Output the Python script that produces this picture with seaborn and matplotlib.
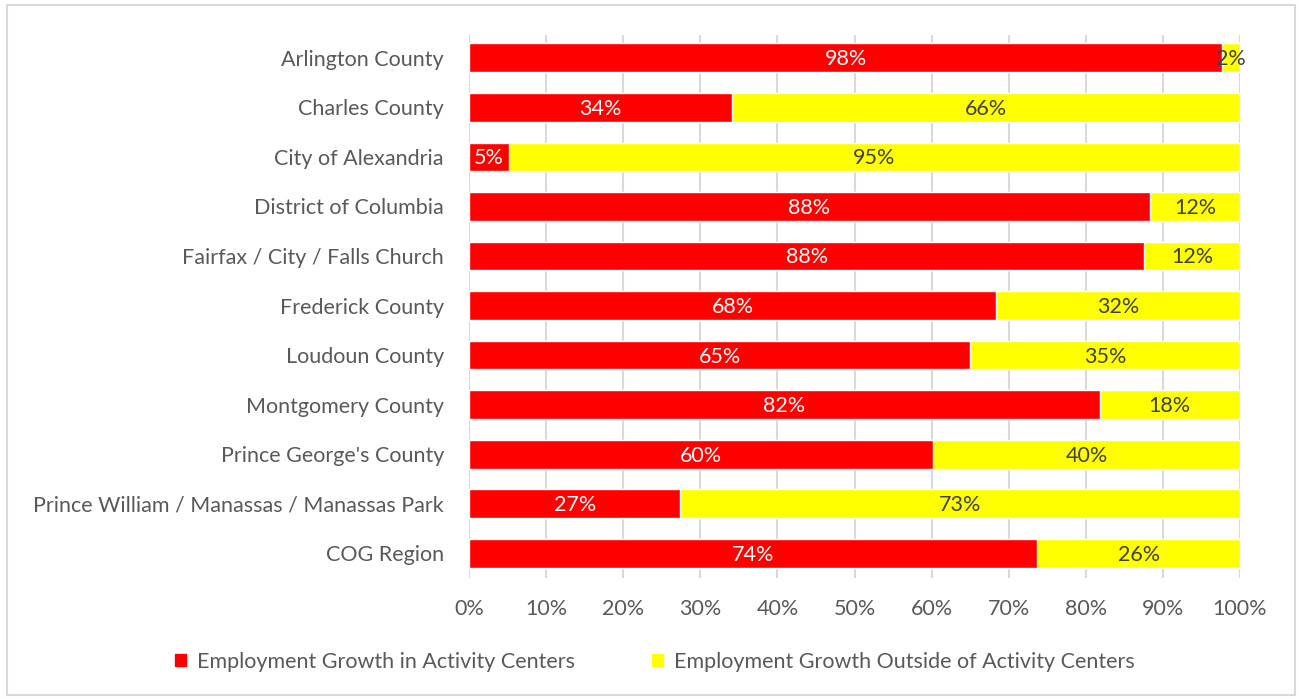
import matplotlib.pyplot as plt
import matplotlib.patches as mpatches
import seaborn as sns
import pandas as pd

counties = ['Arlington County', 'Charles County', 'City of Alexandria',
            'District of Columbia', 'Fairfax / City / Falls Church',
            'Frederick County', 'Loudoun County', 'Montgomery County',
            "Prince George's County", 'Prince William / Manassas / Manassas Park',
            'COG Region']
in_centers = [97.7, 34.1, 5.2, 88.3, 87.6, 68.4, 65.0, 81.8, 60.2, 27.4, 73.7]
outside_centers = [100 - v for v in in_centers]

RED = '#ff0000'
YELLOW = '#ffff00'
TEXT = '#595959'
FS = 15.5

df = pd.DataFrame({'county': counties, 'inside': in_centers,
                   'outside': outside_centers})
df['total'] = df['inside'] + df['outside']

sns.set_style('white')
plt.rcParams['font.family'] = ['Lato', 'DejaVu Sans']

fig = plt.figure(figsize=(12.98, 6.98), dpi=100)
ax = fig.add_axes([469 / 1298, 1 - 578 / 698, 771 / 1298, 543 / 698])

sns.barplot(data=df, x='total', y='county', color=YELLOW, width=0.58,
            saturation=1, ax=ax, zorder=2)
sns.barplot(data=df, x='inside', y='county', color=RED, width=0.58,
            saturation=1, ax=ax, zorder=3)

for i, (a, b) in enumerate(zip(in_centers, outside_centers)):
    ax.text(a / 2, i + 0.03, f'{a:.0f}%', ha='center', va='center', color='white',
            fontsize=FS, zorder=4)
    ax.text(a + b / 2, i + 0.03, f'{b:.0f}%', ha='center', va='center',
            color='#404040', fontsize=FS, zorder=4)

ax.set_xlim(0, 100)
ax.set_ylim(10.5, -0.46)
ax.set_xticks(range(0, 101, 10))
ax.set_xticklabels([f'{t}%' for t in range(0, 101, 10)])
ax.xaxis.grid(True, color='#d9d9d9', linewidth=1.5, zorder=0)
ax.set_axisbelow(True)
ax.tick_params(axis='both', length=0, labelsize=FS, labelcolor=TEXT)
ax.tick_params(axis='x', pad=15)
ax.tick_params(axis='y', pad=18)
ax.set_xlabel('')
ax.set_ylabel('')
for s in ax.spines.values():
    s.set_visible(False)

handles = [mpatches.Patch(color=RED, label='Employment Growth in Activity Centers'),
           mpatches.Patch(color=YELLOW, label='Employment Growth Outside of Activity Centers')]
fig.legend(handles=handles, loc='center', bbox_to_anchor=(655 / 1298, 1 - 662 / 698),
           ncol=2, frameon=False, fontsize=FS, labelcolor=TEXT,
           handlelength=0.5, handleheight=0.5, handletextpad=0.5,
           columnspacing=3.6)

fig.patches.append(mpatches.Rectangle((7 / 1298, 3 / 698), 1288 / 1298, 690 / 698,
                                      transform=fig.transFigure, fill=False,
                                      edgecolor='#d9d9d9', linewidth=1.5))

plt.savefig('out.png', dpi=100)
plt.close()
